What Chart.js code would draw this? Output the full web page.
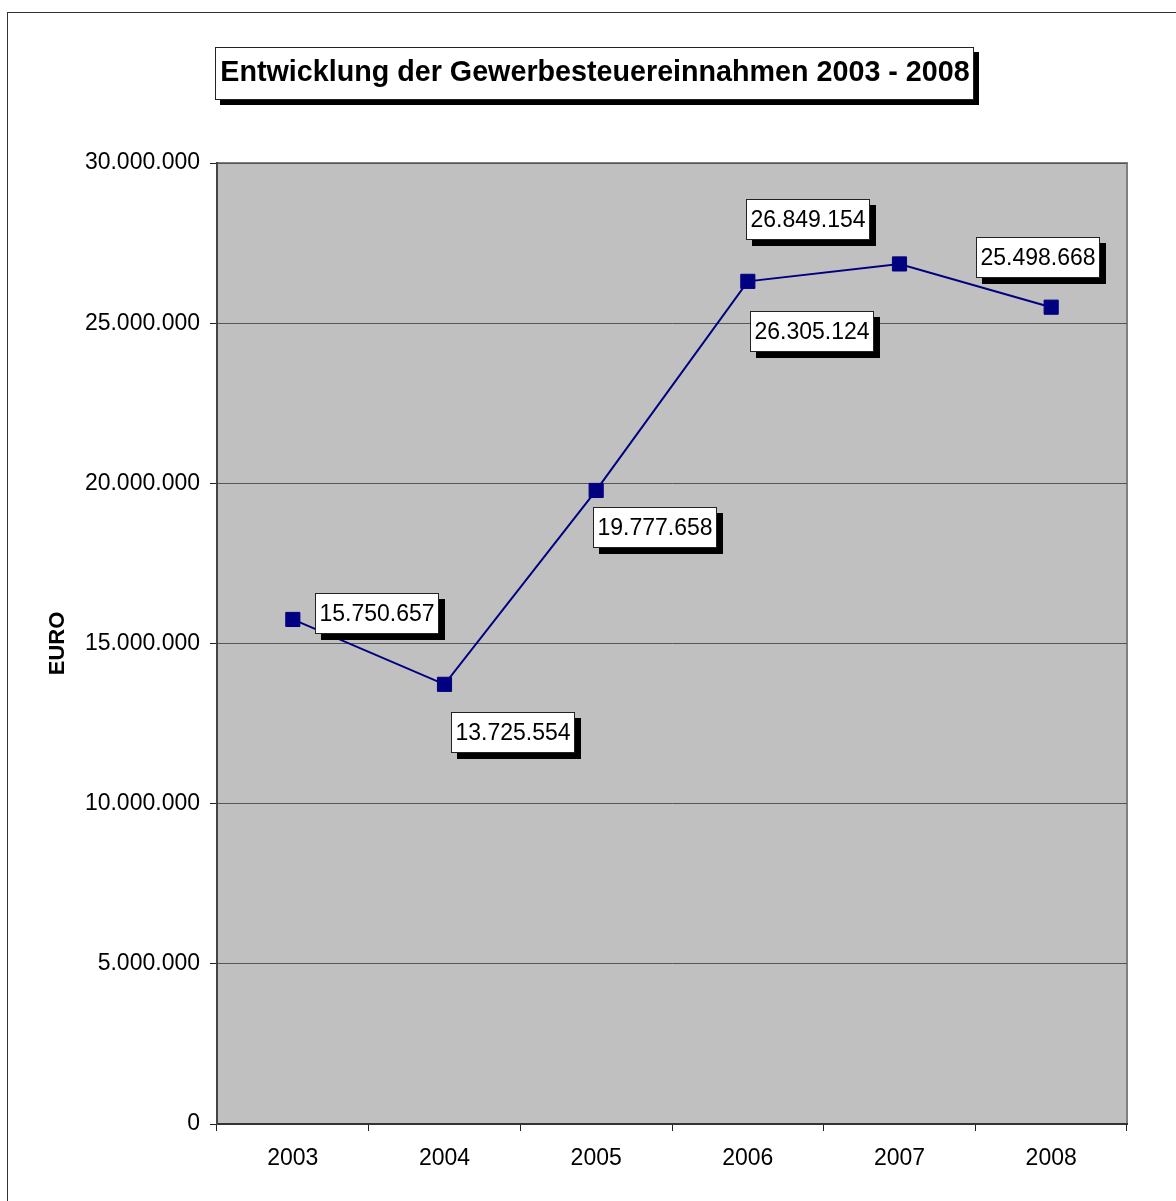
<!DOCTYPE html>
<html>
<head>
<meta charset="utf-8">
<script src="https://cdn.jsdelivr.net/npm/chart.js@4/dist/chart.umd.min.js"></script>
<style>
  html, body { margin: 0; padding: 0; background: #fff; }
  canvas { display: block; }
</style>
</head>
<body>
<canvas id="myChart" width="1176" height="1201"></canvas>
<script>
// Daten
const years = ['2003', '2004', '2005', '2006', '2007', '2008'];
const revenue = [15750657, 13725554, 19777658, 26305124, 26849154, 25498668];
const yTickValues = [0, 5000000, 10000000, 15000000, 20000000, 25000000, 30000000];

const chartTitle = 'Entwicklung der Gewerbesteuereinnahmen 2003 - 2008';
const yAxisTitle = 'EURO';

// Verschiebung der Beschriftungen relativ zum Punkt (nur Layout)
const labelShift = [[84, -6], [68, 48], [59, 37], [64, 50], [-92, -44], [-13, -50]];

const FONT = "'Liberation Sans', Arial, sans-serif";

// Zahl im deutschen Format (Tausenderpunkte)
function formatDe(n) {
    return String(Math.round(n)).replace(/\B(?=(\d{3})+(?!\d))/g, '.');
}

// Kasten mit Schatten zeichnen
function shadowBox(ctx, x, y, w, h, off) {
    ctx.fillStyle = '#000';
    ctx.fillRect(x + off, y + off, w, h);
    ctx.fillStyle = '#fff';
    ctx.fillRect(x, y, w, h);
    ctx.strokeStyle = '#222';
    ctx.lineWidth = 1;
    ctx.strokeRect(x + 0.5, y + 0.5, w - 1, h - 1);
}

const backgroundPlugin = {
    id: 'background',
    beforeDraw(chart) {
        const ctx = chart.ctx;
        const a = chart.chartArea;
        ctx.save();
        ctx.fillStyle = '#fff';
        ctx.fillRect(0, 0, chart.width, chart.height);
        // äußerer Rahmen
        ctx.strokeStyle = '#333';
        ctx.lineWidth = 1;
        ctx.strokeRect(7.5, 12.5, 1400, 1400);
        // Zeichnungsfläche
        ctx.fillStyle = '#c0c0c0';
        ctx.fillRect(a.left, a.top, a.right - a.left, a.bottom - a.top);
        ctx.strokeStyle = '#808080';
        ctx.lineWidth = 2;
        ctx.strokeRect(a.left, a.top, a.right - a.left, a.bottom - a.top);
        ctx.restore();
    }
};

const titlePlugin = {
    id: 'boxTitle',
    afterDraw(chart) {
        const ctx = chart.ctx;
        ctx.save();
        ctx.font = 'bold 28.7px ' + FONT;
        const w = ctx.measureText(chartTitle).width + 10;
        const cx = 595;
        const x = Math.round(cx - w / 2);
        shadowBox(ctx, x, 47, Math.round(w), 53, 5);
        ctx.fillStyle = '#000';
        ctx.textAlign = 'center';
        ctx.textBaseline = 'middle';
        ctx.fillText(chartTitle, cx, 73);
        ctx.restore();
    }
};

const dataLabelPlugin = {
    id: 'dataLabels',
    afterDatasetsDraw(chart) {
        const ctx = chart.ctx;
        const meta = chart.getDatasetMeta(0);
        ctx.save();
        ctx.font = '23px ' + FONT;
        meta.data.forEach((pt, i) => {
            const text = formatDe(revenue[i]);
            const w = Math.round(ctx.measureText(text).width + 9);
            const h = 41;
            const cx = pt.x + labelShift[i][0];
            const cy = pt.y + labelShift[i][1];
            const x = Math.round(cx - w / 2);
            const y = Math.round(cy - h / 2);
            shadowBox(ctx, x, y, w, h, 6);
            ctx.fillStyle = '#000';
            ctx.textAlign = 'center';
            ctx.textBaseline = 'middle';
            ctx.fillText(text, x + w / 2, y + h / 2 + 1);
        });
        ctx.restore();
    }
};

const ctx = document.getElementById('myChart').getContext('2d');
new Chart(ctx, {
    type: 'line',
    data: {
        labels: years,
        datasets: [{
            label: 'Gewerbesteuer',
            data: revenue,
            borderColor: '#000080',
            backgroundColor: '#000080',
            borderWidth: 2,
            pointStyle: 'rect',
            pointRadius: 10,
            pointBorderWidth: 1,
            pointBorderColor: '#000080',
            pointBackgroundColor: '#000080',
            tension: 0,
            fill: false
        }]
    },
    options: {
        responsive: false,
        animation: false,
        devicePixelRatio: 1,
        layout: {
            padding: { left: 8, top: 163, right: 49, bottom: 0 }
        },
        plugins: {
            legend: { display: false },
            title: { display: false },
            tooltip: { enabled: false }
        },
        scales: {
            x: {
                type: 'category',
                offset: true,
                afterFit(scale) { scale.height = 77; },
                grid: {
                    offset: true,
                    drawOnChartArea: false,
                    drawTicks: true,
                    tickLength: 7,
                    color: '#222'
                },
                border: { color: '#333', width: 2 },
                ticks: {
                    color: '#000',
                    padding: 14,
                    maxRotation: 0,
                    font: { family: FONT, size: 23 }
                }
            },
            y: {
                min: 0,
                max: 30000000,
                afterFit(scale) { scale.width = 209; },
                afterBuildTicks(scale) {
                    scale.ticks = yTickValues.map(v => ({ value: v }));
                },
                grid: {
                    color: '#555',
                    lineWidth: 1,
                    tickLength: 7,
                    tickColor: '#222'
                },
                border: { color: '#444', width: 2 },
                ticks: {
                    color: '#000',
                    padding: 10,
                    font: { family: FONT, size: 23 },
                    callback: v => formatDe(v)
                },
                title: {
                    display: true,
                    text: yAxisTitle,
                    color: '#000',
                    padding: { top: 37, bottom: 0 },
                    font: { family: FONT, size: 22, weight: 'bold' }
                }
            }
        }
    },
    plugins: [backgroundPlugin, titlePlugin, dataLabelPlugin]
});
</script>
</body>
</html>
